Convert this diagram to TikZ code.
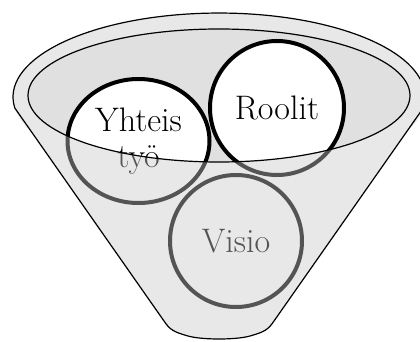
\documentclass[tikz,border=0pt]{standalone}
\usepackage{tikz}
\usetikzlibrary{shapes.geometric}
\definecolor{rimgray}{gray}{0.91}
\definecolor{innergray}{gray}{0.88}
\definecolor{frontgray}{gray}{0.79}
\newcommand{\funnelbottom}{-- (274,321) .. controls (268,330) and (264,332) .. (250,336)
  .. controls (236,340) and (202,340) .. (188,336) .. controls (174,332) and (170,330) .. (164,321)}
\newcommand{\funnelout}{(14.8,108) arc[start angle=172.5, end angle=367.5, x radius=206, y radius=84]
  \funnelbottom -- cycle}
\newcommand{\funnelfront}{(28,95.5) arc[start angle=180, end angle=0, x radius=191, y radius=66.5]
  -- (423.2,108) \funnelbottom -- (14.8,108) -- cycle}

\begin{document}
\begin{tikzpicture}[x=1pt, y=-1pt,
  ball/.style={draw, line width=4pt, fill=white, align=center, inner sep=0pt,
    font=\fontsize{34}{36}\selectfont},
  rim/.style={line width=1.2pt}]
  \useasboundingbox (0,0) rectangle (420,342);
  % --- funnel body ---
  \fill[rimgray] (219,97) ellipse[x radius=206, y radius=84];
  \fill[rimgray] \funnelout;
  \fill[white] \funnelfront;
  \fill[innergray] (219,95.5) ellipse[x radius=191, y radius=66.5];

  % --- balls ---
  \node[ball, ellipse, minimum width=142pt, minimum height=124pt] (yhteistyo) at (138.5,141) {Yhteis\\työ};
  \node[ball, circle, minimum size=134pt] (roolit) at (277,108) {Roolit};
  \node[ball, circle, minimum size=132pt] (visio) at (236,241) {Visio};

  % --- front of the funnel ---
  \fill[frontgray, fill opacity=0.42] \funnelfront;
  \draw[rim] (219,95.5) ellipse[x radius=191, y radius=66.5];
  \draw[rim, line join=round] \funnelout;
\end{tikzpicture}
\end{document}
